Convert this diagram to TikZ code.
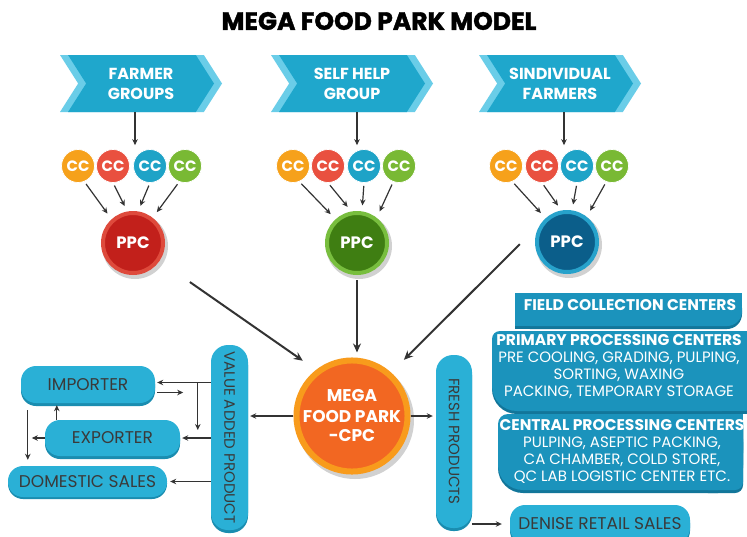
\documentclass[tikz,border=0pt]{standalone}
\usepackage{fontspec}
\setmainfont{Poppins}
\usetikzlibrary{arrows.meta,shapes.symbols,calc}
\definecolor{chevL}{HTML}{6ACDE8}
\definecolor{chevD}{HTML}{1FA7CC}
\definecolor{pill}{HTML}{2AB0D6}
\definecolor{pillS}{HTML}{1A8DB0}
\definecolor{rbox}{HTML}{1B93BC}
\definecolor{rboxS}{HTML}{12769A}
\definecolor{ccO}{HTML}{F6A11B}
\definecolor{ccR}{HTML}{E9503F}
\definecolor{ccB}{HTML}{1EA3C7}
\definecolor{ccG}{HTML}{79B934}
\definecolor{pRf}{HTML}{C2201B}
\definecolor{pRr}{HTML}{DE4A3C}
\definecolor{pGf}{HTML}{3F7E12}
\definecolor{pGr}{HTML}{78BE3E}
\definecolor{pBf}{HTML}{0B5E8A}
\definecolor{pBr}{HTML}{27A2CB}
\definecolor{megaF}{HTML}{F26722}
\definecolor{megaR}{HTML}{F89B1C}
\definecolor{ink}{HTML}{333333}
\definecolor{txt}{HTML}{3A3A3A}
\newcommand\rbField[1]{%
  \fill[#1,rounded corners=15pt] (515,293) rectangle (742,326);
  \fill[#1] (515,293) rectangle (700,326);
  \fill[#1] (600,293) rectangle (742,305);}
\newcommand\rbPrim[1]{%
  \fill[#1,rounded corners=25pt] (492,331) rectangle (747,411);
  \fill[#1,rounded corners=8pt] (492,331) rectangle (747,380);
  \fill[#1] (700,331) rectangle (747,411);}
\newcommand\rbCent[1]{%
  \fill[#1,rounded corners=25pt] (498,414) rectangle (743,490);
  \fill[#1,rounded corners=10pt] (498,414) rectangle (743,460);
  \fill[#1,rounded corners=8pt] (700,414) rectangle (743,490);
  \fill[#1] (700,414) rectangle (743,440);}
\begin{document}
\begin{tikzpicture}[x=1pt,y=-1pt,
  chevback/.style={signal, signal to=east, signal from=west, signal pointer angle=115,
    fill=chevL, minimum width=162pt, minimum height=57pt, inner sep=0pt},
  chevfront/.style={signal, signal to=east, signal from=west, signal pointer angle=115,
    fill=chevD, minimum width=146pt, minimum height=57pt, inner sep=0pt, text=white,
    font=\bfseries\fontsize{16}{20}\selectfont, align=center},
  cc/.style={circle, minimum size=33pt, inner sep=0pt, fill=#1, draw=white, line width=0.7pt,
    text=white, font=\bfseries\fontsize{15}{15}\selectfont},
  ppc/.style 2 args={circle, minimum size=60pt, inner sep=0pt, fill=#1, draw=#2, line width=4pt,
    text=white, font=\bfseries\fontsize{16.5}{16.5}\selectfont},
  arr/.style={draw=ink, line width=1.2pt, -{Stealth[length=6pt,width=5.5pt]}},
  bigarr/.style={draw=ink, line width=2pt, -{Stealth[length=9pt,width=8pt]}},
  pillbox/.style={rectangle, rounded corners=15pt, fill=pill, text=txt, inner sep=0pt,
    font=\fontsize{17}{17}\selectfont},
  bar/.style={rectangle, rounded corners=17pt, fill=pill, inner sep=0pt},
  bartext/.style={rotate=-90, text=txt, font=\fontsize{15}{15}\selectfont},
  rtext/.style={text=white, align=center, font=\fontsize{15}{17}\selectfont, inner sep=0pt},
  rhead/.style={font=\bfseries\fontsize{15.5}{17}\selectfont},
]
\useasboundingbox (0,0) rectangle (747,536);
\fill[white] (0,0) rectangle (747,536);

% title
\node[font=\bfseries\fontsize{25}{25}\selectfont\addfontfeatures{FakeBold=1.5}] (title) at (379,21) {MEGA FOOD PARK MODEL};

% chevrons
\node[chevback] (g1b) at (141,83.5) {};
\node[chevfront] (g1) at (141,83.5) {FARMER\\GROUPS};
\node[chevback] (g2b) at (352,83.5) {};
\node[chevfront] (g2) at (352,83.5) {SELF HELP\\GROUP};
\node[chevback] (g3b) at (560,83.5) {};
\node[chevfront] (g3) at (560,83.5) {SINDIVIDUAL\\FARMERS};

% CC circles
\node[cc=ccO] (a1) at (78,166) {CC};
\node[cc=ccR] (a2) at (113,166) {CC};
\node[cc=ccB] (a3) at (150,166) {CC};
\node[cc=ccG] (a4) at (185,166) {CC};
\node[cc=ccO] (b1) at (293,166) {CC};
\node[cc=ccR] (b2) at (328,166) {CC};
\node[cc=ccB] (b3) at (364,166) {CC};
\node[cc=ccG] (b4) at (399,166) {CC};
\node[cc=ccO] (c1) at (506,166) {CC};
\node[cc=ccR] (c2) at (542,166) {CC};
\node[cc=ccB] (c3) at (577,166) {CC};
\node[cc=ccG] (c4) at (612,166) {CC};

% PPC circles (with soft shadow)
\fill[black,opacity=0.18] (135,246) circle (33);
\fill[black,opacity=0.18] (359,246) circle (33);
\fill[black,opacity=0.18] (569,245) circle (33);
\node[ppc={pRf}{pRr}] (p1) at (133,243) {PPC};
\node[ppc={pGf}{pGr}] (p2) at (357,243) {PPC};
\node[ppc={pBf}{pBr}] (p3) at (567,242) {PPC};

% chevron to CC arrows
\draw[arr] ($(g1.south)+(-6,0)$) -- ($(g1.south)+(-6,33)$);
\draw[arr] ($(g2.south)+(5,0)$) -- ($(g2.south)+(5,33)$);
\draw[arr] ($(g3.south)+(4,0)$) -- ($(g3.south)+(4,33)$);

% CC to PPC arrows
\foreach \g/\p in {a/p1,b/p2,c/p3}{
  \draw[arr,shorten <=3pt,shorten >=7pt] (\g1.-68) -- (\p.132);
  \draw[arr,shorten <=3pt,shorten >=6pt] (\g2.-90) -- (\p.100);
  \draw[arr,shorten <=3pt,shorten >=6pt] (\g3.-90) -- (\p.81);
  \draw[arr,shorten <=3pt,shorten >=7pt] (\g4.-110) -- (\p.52);
}

% MEGA
\fill[black,opacity=0.18] (355,420) circle (59);
\node[circle, minimum size=110pt, inner sep=0pt, fill=megaF, draw=megaR, line width=6pt,
  text=white, align=center, font=\bfseries\fontsize{17}{20}\selectfont] (m) at (352,416)
  {MEGA\\FOOD PARK\\-CPC};

% PPC to MEGA
\draw[bigarr,shorten <=37pt,shorten >=16pt] (p1.-34) -- (m.128);
\draw[bigarr,shorten <=5pt,shorten >=5pt] (p2.south) -- (p2.south |- m.north);
\draw[bigarr,shorten <=31pt,shorten >=18pt] (p3.142) -- (m.48);

% vertical bars
\fill[pillS, rounded corners=17pt] (211,348) rectangle (248,533);
\node[bar, minimum width=37pt, minimum height=185pt] (vap) at (229.5,437.5) {};
\node[bartext] (vapt) at (vap.center) {VALUE ADDED PRODUCT};
\fill[pillS, rounded corners=17pt] (436,358) rectangle (472,531);
\node[bar, minimum width=36pt, minimum height=173pt] (fr) at (454,441.5) {};
\node[bartext] (frt) at (fr.center) {FRESH PRODUCTS};

\draw[arr,shorten >=2pt] (m.west) -- (m.west -| vap.east);
\draw[arr,shorten >=3pt] (m.east) -- (m.east -| fr.west);

% left pills
\fill[pillS, rounded corners=15pt] (21,369) rectangle (155,406);
\node[pillbox, minimum width=134pt, minimum height=37pt] (imp) at (88,384.5) {IMPORTER};
\fill[pillS, rounded corners=15pt] (45,423) rectangle (180,459);
\node[pillbox, minimum width=135pt, minimum height=36pt] (exp) at (112.5,438) {EXPORTER};
\fill[pillS, rounded corners=15pt] (8,468) rectangle (167,499);
\node[pillbox, minimum width=159pt, minimum height=31pt] (dom) at (87.5,481.5) {DOMESTIC SALES};

% left arrows
\draw[arr,shorten >=2pt] ($(imp.east -| vap.west)+(0,-2)$) -- ($(imp.east)+(0,-2)$);
\draw[arr] ($(imp.east)+(2,8)$) -- ($(imp.east)+(28,8)$);
\draw[arr] ($(imp.east -| vap.west)+(-13,-2)$) -- ($(exp.east -| vap.west)+(-13,-8)$);
\draw[arr,shorten >=2pt] (exp.east -| vap.west) -- (exp.east);
\draw[arr] (exp.west) -- ($(exp.west)+(-13,0)$);
\draw[arr] ($(exp.north west)+(12,0)$) -- ($(imp.south west)+(36,2)$);
\draw[arr] ($(imp.south west)+(7,7)$) -- ($(dom.north west)+(20,-6)$);
\draw[arr,shorten >=3pt] (dom.east -| vap.west) -- (dom.east);

% right boxes
\begin{scope}[yshift=-3pt]
\rbField{rboxS}
\rbPrim{rboxS}
\rbCent{rboxS}
\end{scope}
\rbField{rbox}
\rbPrim{rbox}
\rbCent{rbox}
\node[rtext, rhead] (fcc) at (630,305) {FIELD COLLECTION CENTERS};
\node[rtext] (pcc) at (619,367) {{\bfseries\fontsize{15.5}{17}\selectfont PRIMARY PROCESSING CENTERS}\\PRE COOLING, GRADING, PULPING,\\SORTING, WAXING\\PACKING, TEMPORARY STORAGE};
\node[rtext] (ccc) at (622,451) {{\bfseries\fontsize{15.5}{17}\selectfont CENTRAL PROCESSING CENTERS}\\PULPING, ASEPTIC PACKING,\\CA CHAMBER, COLD STORE,\\QC LAB LOGISTIC CENTER ETC.};

% denise
\fill[pillS, rounded corners=15pt] (510,508) rectangle (690,546);
\node[pillbox, minimum width=180pt, minimum height=38pt] (den) at (600,524) {DENISE RETAIL SALES};
\draw[arr,shorten >=8pt] (fr.south east |- den.west) -- (den.west);
\end{tikzpicture}
\end{document}
